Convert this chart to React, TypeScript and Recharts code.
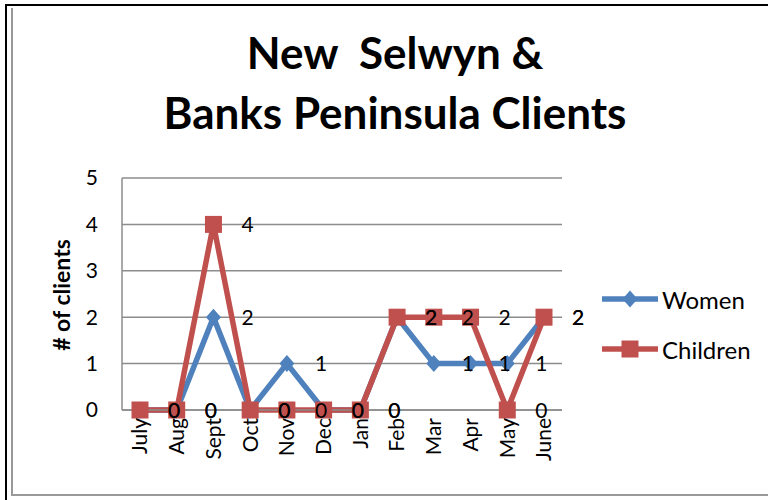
import { CartesianGrid, LabelList, Line, LineChart, XAxis, YAxis } from 'recharts'

const months = ['July', 'Aug', 'Sept', 'Oct', 'Nov', 'Dec', 'Jan', 'Feb', 'Mar', 'Apr', 'May', 'June']
const women = [0, 0, 2, 0, 1, 0, 0, 2, 1, 1, 1, 2]
const children = [0, 0, 4, 0, 0, 0, 0, 2, 2, 2, 0, 2]
const yTicks = [0, 1, 2, 3, 4, 5]

const data = months.map((m, i) => ({ month: m, women: women[i], children: children[i] }))

const BLUE = '#4f81bd'
const RED = '#c0504d'
const FONT = 'Lato, "Open Sans", sans-serif'

function Diamond({ cx, cy }: any) {
  if (cx == null || cy == null) return null
  return <polygon points={`${cx},${cy - 8.5} ${cx + 7.5},${cy} ${cx},${cy + 8.5} ${cx - 7.5},${cy}`} fill={BLUE} />
}

function Square({ cx, cy }: any) {
  if (cx == null || cy == null) return null
  return <rect x={cx - 8.5} y={cy - 8.5} width={17} height={17} fill={RED} />
}

function MonthTick({ x, y, payload }: any) {
  return (
    <text
      x={x}
      y={y}
      transform={`rotate(-90 ${x} ${y})`}
      textAnchor="end"
      dy="0.35em"
      fontSize={21}
      fontFamily={FONT}
      fill="#000"
    >
      {payload.value}
    </text>
  )
}

function ValueLabel({ x, y, value }: any) {
  return (
    <text x={x + 28} y={y} dy="0.36em" fontSize={21} fontFamily={FONT} fill="#000">
      {value}
    </text>
  )
}

function LegendRow({ label, color, top, marker }: { label: string; color: string; top: number; marker: 'diamond' | 'square' }) {
  return (
    <div style={{ position: 'absolute', left: 600, top: top - 14, display: 'flex', alignItems: 'center', height: 28 }}>
      <svg width={60} height={24}>
        <line x1={2} y1={12} x2={58} y2={12} stroke={color} strokeWidth={5.5} />
        {marker === 'diamond' ? (
          <polygon points="30,3.5 37.5,12 30,20.5 22.5,12" fill={color} />
        ) : (
          <rect x={21.5} y={3.5} width={17} height={17} fill={color} />
        )}
      </svg>
      <span style={{ fontFamily: FONT, fontSize: 24, color: '#000', marginLeft: 2 }}>{label}</span>
    </div>
  )
}

export default function App() {
  return (
    <div style={{ position: 'absolute', left: 0, top: 0, width: 768, height: 500, background: '#fff', overflow: 'hidden' }}>
      <div style={{ position: 'absolute', left: 5, top: 4, width: 800, height: 494, borderTop: '2px solid #000', borderLeft: '2px solid #000' }} />
      <div style={{ position: 'absolute', left: 11, top: 8, width: 800, height: 486, borderLeft: '2px solid #999', borderBottom: '2px solid #999' }} />

      <div
        style={{
          position: 'absolute',
          left: 0,
          top: 22,
          width: 790,
          textAlign: 'center',
          fontFamily: FONT,
          fontWeight: 700,
          fontSize: 44,
          lineHeight: '60px',
          color: '#000',
          whiteSpace: 'pre',
        }}
      >
        {'New  Selwyn &\nBanks Peninsula Clients'}
      </div>

      <div style={{ position: 'absolute', left: 0, top: 0 }}>
        <LineChart width={768} height={500} data={data} margin={{ top: 178, right: 206, bottom: 30, left: 40 }}>
          <CartesianGrid vertical={false} stroke="#8c8c8c" strokeWidth={1.5} />
          <XAxis
            dataKey="month"
            interval={0}
            height={60}
            padding={{ left: 18, right: 18 }}
            stroke="#8c8c8c"
            strokeWidth={1.5}
            tickLine={false}
            tickSize={0}
            tickMargin={8}
            tick={<MonthTick />}
          />
          <YAxis
            domain={[0, 5]}
            ticks={yTicks}
            width={82}
            stroke="#8c8c8c"
            strokeWidth={1.5}
            tickLine={false}
            tickSize={0}
            tickMargin={24}
            tick={{ fontSize: 21, fontFamily: FONT, fill: '#000' }}
            label={{
              content: () => (
                <text
                  x={62}
                  y={295}
                  transform="rotate(-90 62 295)"
                  textAnchor="middle"
                  dy="0.35em"
                  fontSize={23}
                  fontWeight={700}
                  fontFamily={FONT}
                  fill="#000"
                >
                  # of clients
                </text>
              ),
            }}
          />
          <Line
            type="linear"
            dataKey="women"
            stroke={BLUE}
            strokeWidth={5.5}
            dot={<Diamond />}
            activeDot={false}
            isAnimationActive={false}
          >
            <LabelList dataKey="women" content={<ValueLabel />} />
          </Line>
          <Line
            type="linear"
            dataKey="children"
            stroke={RED}
            strokeWidth={5.5}
            dot={<Square />}
            activeDot={false}
            isAnimationActive={false}
          >
            <LabelList dataKey="children" content={<ValueLabel />} />
          </Line>
        </LineChart>
      </div>

      <LegendRow label="Women" color={BLUE} top={299} marker="diamond" />
      <LegendRow label="Children" color={RED} top={349} marker="square" />
    </div>
  )
}
